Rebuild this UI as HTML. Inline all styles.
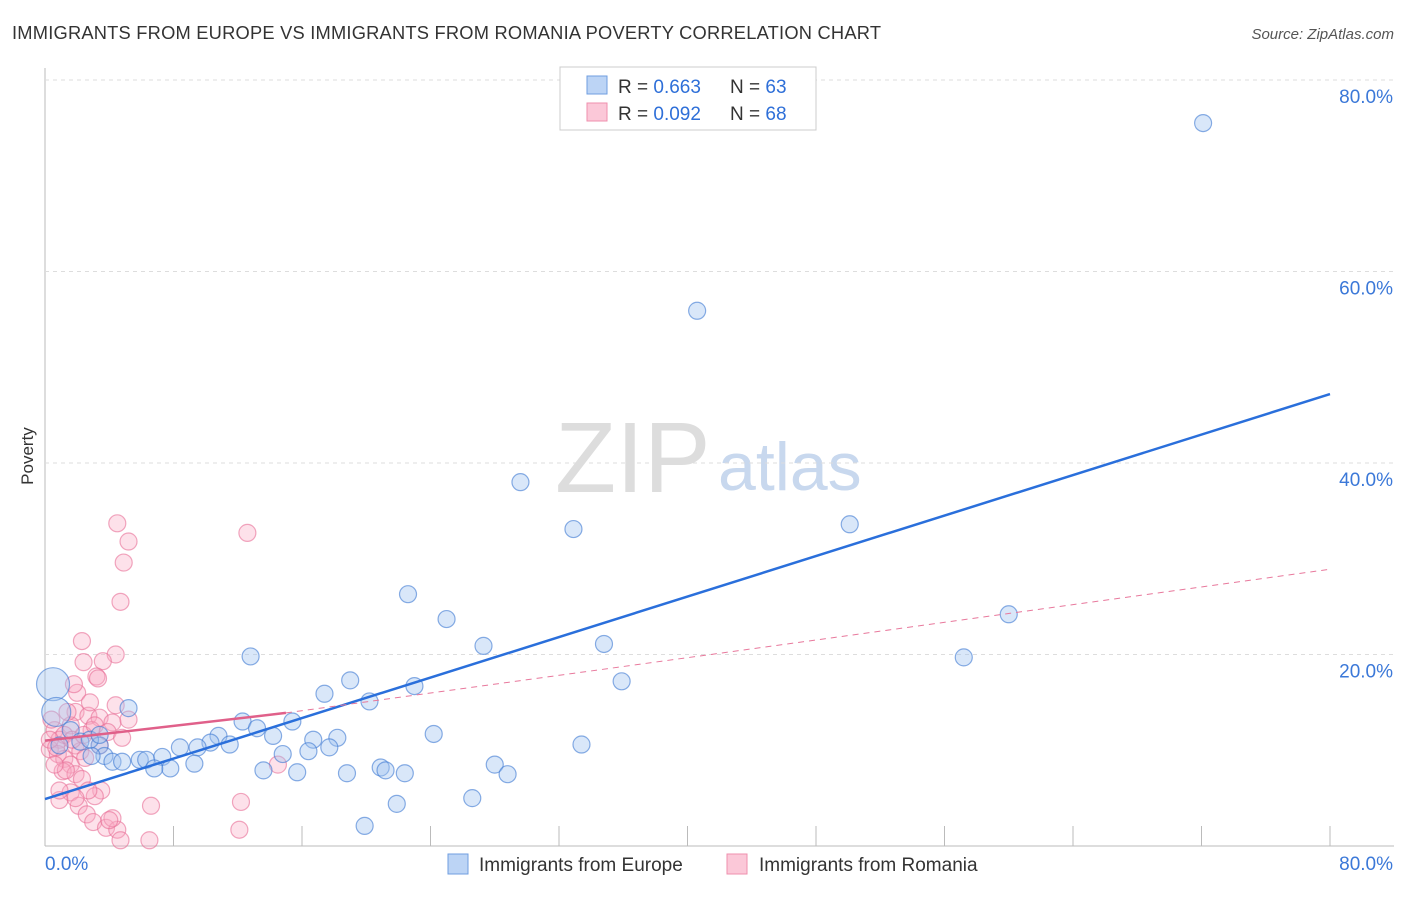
<!DOCTYPE html>
<html><head><meta charset="utf-8"><style>
body{margin:0;background:#fff;font-family:"Liberation Sans",sans-serif;}
svg text{font-family:"Liberation Sans",sans-serif;}
</style></head><body>
<svg id="c" width="1406" height="892" xmlns="http://www.w3.org/2000/svg">
<text x="12" y="39" font-size="18.3" fill="#333" textLength="869">IMMIGRANTS FROM EUROPE VS IMMIGRANTS FROM ROMANIA POVERTY CORRELATION CHART</text>
<text x="1394" y="39" font-size="15" fill="#555" font-style="italic" text-anchor="end">Source: ZipAtlas.com</text>
<text x="33" y="456" font-size="17" fill="#333" transform="rotate(-90 33 456)" text-anchor="middle">Poverty</text>
<text x="555" y="492" font-size="100" fill="#ddd" font-family="Liberation Serif">ZIP</text>
<text x="718" y="490" font-size="68" fill="#c8d8ee">atlas</text>
<g id="grid"></g><g id="pts"></g><g id="lines"></g>
<g>
<rect x="560" y="67" width="256" height="63" fill="#fff" stroke="#ccc"/>
<rect x="587" y="76" width="20" height="18" fill="#bcd4f5" stroke="#6f9ee0"/>
<rect x="587" y="103" width="20" height="18" fill="#fbc8d8" stroke="#ef8fae"/>
<text x="618" y="93" font-size="19" fill="#333">R = <tspan fill="#2e6fd8">0.663</tspan></text>
<text x="730" y="93" font-size="19" fill="#333">N = <tspan fill="#2e6fd8">63</tspan></text>
<text x="618" y="120" font-size="19" fill="#333">R = <tspan fill="#2e6fd8">0.092</tspan></text>
<text x="730" y="120" font-size="19" fill="#333">N = <tspan fill="#2e6fd8">68</tspan></text>
</g>
<g>
<rect x="448" y="854" width="20" height="20" fill="#bcd4f5" stroke="#6f9ee0"/>
<text x="479" y="871" font-size="19" fill="#333">Immigrants from Europe</text>
<rect x="727" y="854" width="20" height="20" fill="#fbc8d8" stroke="#ef8fae"/>
<text x="759" y="871" font-size="19" fill="#333">Immigrants from Romania</text>
</g>
</svg>
<script>
const yTicks=[20,40,60,80];
const xTickLabels=["0.0%","80.0%"];
const europeX=[72.1,40.6,29.6,32.9,50.1,22.6,25.0,60.0,27.3,34.8,57.2,12.8,35.9,19.0,23.0,17.4,20.2,5.2,15.4,12.3,10.8,13.2,14.2,11.5,10.3,8.4,9.5,24.2,33.4,3.4,18.2,16.7,17.7,14.8,16.4,3.7,2.9,5.9,6.3,7.3,4.2,4.8,9.3,7.8,6.8,13.6,15.7,20.9,18.8,22.4,28.0,28.8,21.2,26.6,21.9,19.9,0.5,0.7,1.6,0.9,2.2,2.8,3.4];
const europeY=[75.5,55.9,38.0,33.1,33.6,26.3,23.7,24.2,20.9,21.1,19.7,19.8,17.2,17.3,16.7,15.9,15.1,14.4,13.0,13.0,11.5,12.3,11.5,10.6,10.8,10.3,10.3,11.7,10.6,10.5,11.3,11.1,10.3,9.6,9.9,9.4,9.4,9.0,9.0,9.3,8.8,8.8,8.6,8.1,8.1,7.9,7.7,8.2,7.6,7.6,8.5,7.5,7.9,5.0,4.4,2.1,16.9,14.0,12.1,10.5,10.9,11.1,11.6];
const europeR=[8,8,8,8,8,8,8,8,8,8,8,8,8,8,8,8,8,8,8,8,8,8,8,8,8,8,8,8,8,8,8,8,8,8,8,8,8,8,8,8,8,8,8,8,8,8,8,8,8,8,8,8,8,8,8,8,16,14,8,8,8,8,8];
const romaniaX=[4.5,5.2,4.9,12.6,4.7,2.3,4.4,2.4,3.6,2.0,3.2,3.3,1.8,4.4,1.9,2.7,3.4,4.2,5.2,1.6,2.9,0.6,0.9,1.2,1.9,0.3,0.8,1.2,2.2,1.6,2.5,1.1,1.9,3.5,1.6,2.1,2.6,3.0,3.8,4.5,4.2,4.0,6.6,12.2,12.1,6.5,4.7,14.5,3.1,0.9,0.4,0.3,0.7,2.8,3.4,1.3,2.3,2.7,1.7,2.4,3.1,1.4,0.6,3.9,4.8,0.9,1.9];
const romaniaY=[33.7,31.8,29.6,32.7,25.5,21.4,20.0,19.2,19.3,16.0,17.7,17.5,16.9,14.7,14.0,13.6,13.4,12.9,13.2,12.6,12.1,12.1,11.1,11.6,10.5,10.1,9.6,9.1,9.9,8.5,9.2,7.8,7.5,5.8,5.6,4.2,3.3,2.5,1.9,1.7,2.9,2.7,4.2,4.6,1.7,0.6,0.6,8.5,5.2,4.8,13.2,11.1,10.3,15.0,10.5,7.9,7.0,5.8,11.1,11.6,12.6,14.0,8.5,11.9,11.3,5.8,5.0];
const blueLine=[4.9,47.2];const pinkLine=[11.0,13.9,28.9];
const X0=45,X1=1330,Y0=846,Y80=80;
const sx=v=>X0+(X1-X0)*v/80, sy=v=>Y0-(Y0-Y80)*v/80;
const NS="http://www.w3.org/2000/svg";
function mk(t,a,p){const e=document.createElementNS(NS,t);for(const k in a)e.setAttribute(k,a[k]);p.appendChild(e);return e;}
const g=document.getElementById('grid');
mk('line',{x1:45,y1:68,x2:45,y2:846,stroke:'#bbb'},g);
mk('line',{x1:45,y1:846,x2:1394,y2:846,stroke:'#bbb'},g);
for(let i=1;i<=10;i++){const x=sx(i*8);const l=mk('line',{x1:x,y1:826,x2:x,y2:846,stroke:'#bbb'},g);

}
yTicks.forEach(v=>{const l=mk('line',{x1:45,y1:sy(v),x2:1394,y2:sy(v),stroke:'#ddd','stroke-dasharray':'4,4'},g);


const t=mk('text',{x:1393,y:sy(v)+23,'font-size':19,fill:'#3b78d8','text-anchor':'end'},g);t.textContent=v.toFixed(1)+'%';

});
const t0=mk('text',{x:45,y:870,'font-size':19,fill:'#3b78d8'},g);t0.textContent=xTickLabels[0];


const t1=mk('text',{x:1393,y:870,'font-size':19,fill:'#3b78d8','text-anchor':'end'},g);t1.textContent=xTickLabels[1];


const p=document.getElementById('pts');
romaniaX.forEach((v,i)=>{const c=mk('circle',{cx:sx(v),cy:sy(romaniaY[i]),r:8.5,fill:'rgba(248,170,195,0.35)',stroke:'rgba(232,110,150,0.6)','stroke-width':1.2},p);

});
europeX.forEach((v,i)=>{const c=mk('circle',{cx:sx(v),cy:sy(europeY[i]),r:europeR[i]+0.5,fill:'rgba(160,195,240,0.4)',stroke:'rgba(60,120,210,0.6)','stroke-width':1.2},p);

});
const L=document.getElementById('lines');
const b=mk('line',{x1:sx(0),y1:sy(blueLine[0]),x2:sx(80),y2:sy(blueLine[1]),stroke:'#2a6fdb','stroke-width':2.5},L);


const pd=mk('line',{x1:sx(15),y1:sy(pinkLine[1]),x2:sx(80),y2:sy(pinkLine[2]),stroke:'#e8789c','stroke-width':1,'stroke-dasharray':'6,5'},L);


const ps=mk('line',{x1:sx(0),y1:sy(pinkLine[0]),x2:sx(15),y2:sy(pinkLine[1]),stroke:'#e0608a','stroke-width':2.5},L);


</script>
</body></html>
